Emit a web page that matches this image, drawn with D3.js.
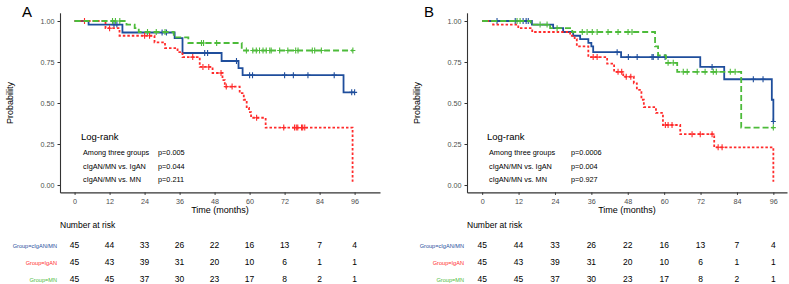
<!DOCTYPE html>
<html>
<head>
<meta charset="utf-8">
<script src="https://cdn.jsdelivr.net/npm/d3@7"></script>
<style>
  body { margin: 0; background: #fff; }
  svg { font-family: "Liberation Sans", Arial, sans-serif; }
</style>
</head>
<body>
<div id="chart"></div>
<script>
////////////////////////////////////////////////////////////////////////
// Data (months, survival probability)

const groups = ["cIgAN/MN", "IgAN", "MN"];
const colors = ["#1F4E9C", "#FF2B2B", "#4DBB3A"];
const dashes = [null, "2.5,2", "6,3"];
const tickMonths = [0, 12, 24, 36, 48, 60, 72, 84, 96];

// panel A
const aBlueT = [4.8, 16.4, 34.3, 37, 50.4, 56.2, 57.6, 92.2];
const aBlueS = [0.978, 0.93, 0.895, 0.805, 0.756, 0.713, 0.67, 0.565];
const aBlueC = [13.5, 14.5, 30, 31.5, 44.6, 45.6, 55.5, 60, 61, 72, 75, 80, 89, 95, 96];

const aRedT = [10.6, 15.4, 27.4, 31, 35.3, 37, 42.9, 47.3, 50.7, 51.5, 56.6, 58, 59, 59.8, 60.5, 65.5, 95.3];
const aRedS = [0.956, 0.91, 0.87, 0.835, 0.81, 0.78, 0.72, 0.683, 0.64, 0.6, 0.56, 0.52, 0.47, 0.445, 0.41, 0.35, 0.02];
const aRedC = [3.4, 12, 24, 25.7, 40.5, 44, 46, 50.2, 52, 54, 62.4, 71.7, 75.4, 76, 76.5, 77.8, 78.2, 78.9];

const aGreenT = [17.8, 20.6, 22, 34, 39, 57.3];
const aGreenS = [0.978, 0.956, 0.933, 0.9, 0.866, 0.82];
const aGreenC = [13, 14, 15.5, 25, 28, 31, 43.5, 44.2, 48.7, 58.9, 61.1, 62.3, 63.4, 64.6, 65.7, 66.9,
                 67.4, 70.3, 73.1, 75.8, 76.6, 81.5, 82.3, 84.6, 95.4];

const aRisk = [[45, 44, 33, 26, 22, 16, 13, 7, 4],
               [45, 43, 39, 31, 20, 10, 6, 1, 1],
               [45, 45, 37, 30, 23, 17, 8, 2, 1]];
const aTest = ["Among three groups", "cIgAN/MN vs. IgAN", "cIgAN/MN vs. MN"];
const aP = ["p=0.005", "p=0.044", "p=0.211"];

// panel B
const bBlueT = [16.4, 23.4, 26.7, 30, 32.3, 35, 36, 36.6, 45.8, 71.9, 79.8, 95.5, 96];
const bBlueS = [0.978, 0.956, 0.933, 0.91, 0.89, 0.867, 0.845, 0.81, 0.78, 0.72, 0.645, 0.52, 0.387];
const bBlueC = [4.9, 10.9, 13.5, 14.5, 15.2, 44.5, 48.2, 51.1, 56, 56.4, 58, 60.3, 75.8, 89.4, 92.6, 96];

const bRedT = [3.6, 11.9, 16.5, 29, 30.5, 31.2, 35, 41.2, 43.5, 46.5, 50, 51, 52.5, 53.3, 57.3, 59.6, 65.3, 76.5, 96];
const bRedS = [0.978, 0.956, 0.933, 0.91, 0.89, 0.845, 0.78, 0.74, 0.69, 0.66, 0.62, 0.58, 0.52, 0.475, 0.44,
               0.366, 0.31, 0.23, 0.02];
const bRedC = [36.6, 37.9, 44.8, 46, 47.5, 49, 60.4, 61.3, 62.6, 69.2, 71.9, 75.8, 77.8, 79.1];

const bGreenT = [16, 22.4, 29.7, 57, 58, 60.6, 64.3, 85.4];
const bGreenS = [0.978, 0.956, 0.933, 0.845, 0.79, 0.745, 0.69, 0.35];
const bGreenC = [11.5, 12.5, 19.1, 21.4, 24.7, 33, 34.6, 36.3, 37.9, 41.5, 44.8, 48.1, 49.4, 61.3, 63,
                 66.3, 67.6, 70.9, 73.5, 76.2, 77.2, 81.8, 83.4, 96];

const bRisk = [[45, 44, 33, 26, 22, 16, 13, 7, 4],
               [45, 43, 39, 31, 20, 10, 6, 1, 1],
               [45, 45, 37, 30, 23, 17, 8, 2, 1]];
const bTest = ["Among three groups", "cIgAN/MN vs. IgAN", "cIgAN/MN vs. MN"];
const bP = ["p=0.0006", "p=0.004", "p=0.927"];

////////////////////////////////////////////////////////////////////////

const svg = d3.select("#chart").append("svg")
  .attr("width", 789).attr("height", 284);

// survival value at time t for a step curve
function survAt(times, surv, t) {
  let s = 1;
  for (let i = 0; i < times.length; i++) if (times[i] <= t) s = surv[i];
  return s;
}

function drawPanel(p) {
  const g = svg.append("g");
  const x = d3.scaleLinear().domain(p.xDomain).range(p.xRange);
  const y = d3.scaleLinear().domain([-0.045, 1.05]).range([192.4, 12.8]);
  const midX = (x.range()[0] + x.range()[1]) / 2;

  // panel letter
  g.append("text").attr("x", p.letterX).attr("y", 17)
    .attr("font-size", 15).attr("fill", "#000").text(p.letter);

  // axes
  const xAxis = g.append("g").attr("transform", `translate(0,${y.range()[0]})`)
    .call(d3.axisBottom(x).tickValues(tickMonths).tickSize(2.5).tickSizeOuter(0));
  const yAxis = g.append("g").attr("transform", `translate(${x.range()[0]},0)`)
    .call(d3.axisLeft(y).tickValues([0, 0.25, 0.5, 0.75, 1]).tickFormat(d3.format(".2f"))
      .tickSize(2.5).tickSizeOuter(0));
  [xAxis, yAxis].forEach(a => {
    a.select(".domain").attr("stroke", "#333").attr("stroke-width", 1.1);
    a.selectAll(".tick line").attr("stroke", "#333");
    a.selectAll(".tick text").attr("fill", "#4d4d4d").attr("font-size", 7.2)
      .attr("font-family", "Liberation Sans, Arial, sans-serif");
  });
  xAxis.selectAll(".tick text").attr("dy", "0.9em");

  g.append("text").attr("x", midX).attr("y", 213).attr("text-anchor", "middle")
    .attr("font-size", 9).text("Time (months)");
  g.append("text").attr("transform", `translate(${p.yTitleX},103) rotate(-90)`)
    .attr("text-anchor", "middle").attr("font-size", 9).text("Probability");

  // curves
  p.curves.forEach((c, i) => {
    const pts = [[0, 1]];
    c.t.forEach((t, j) => pts.push([t, c.s[j]]));
    const last = d3.max(c.c.concat(c.t));
    pts.push([last, pts[pts.length - 1][1]]);
    const line = d3.line().x(d => x(d[0])).y(d => y(d[1])).curve(d3.curveStepAfter);
    g.append("path").datum(pts).attr("d", line)
      .attr("fill", "none").attr("stroke", colors[i]).attr("stroke-width", 1.8)
      .attr("stroke-dasharray", dashes[i]);
    // censor marks
    g.append("g").selectAll("path").data(c.c).join("path")
      .attr("d", t => {
        const cx = x(t), cy = y(survAt(c.t, c.s, t));
        return `M${cx},${cy - 3}V${cy + 3}M${cx - 2.5},${cy}H${cx + 2.5}`;
      })
      .attr("stroke", colors[i]).attr("stroke-width", 1.1).attr("fill", "none");
  });

  // log-rank box
  g.append("text").attr("x", p.lrX).attr("y", 140).attr("font-size", 9.5).text("Log-rank");
  p.tests.forEach((s, i) => {
    g.append("text").attr("x", p.lrX + 2).attr("y", 155 + i * 13.5).attr("font-size", 7.3).text(s);
    g.append("text").attr("x", p.pX).attr("y", 155 + i * 13.5).attr("font-size", 7.3).text(p.ps[i]);
  });

  // number at risk table
  g.append("text").attr("x", x.range()[0]).attr("y", 228).attr("font-size", 8.5).text("Number at risk");
  p.risk.forEach((row, i) => {
    const ry = 248 + i * 17;
    g.append("text").attr("x", x.range()[0] - 3).attr("y", ry - 0.5).attr("text-anchor", "end")
      .attr("font-size", 5.6).attr("fill", colors[i]).text("Group=" + groups[i]);
    g.append("g").selectAll("text").data(row).join("text")
      .attr("x", (d, j) => x(tickMonths[j])).attr("y", ry)
      .attr("text-anchor", "middle").attr("font-size", 8.5).text(d => d);
  });
}

drawPanel({
  letter: "A", letterX: 22, yTitleX: 13,
  xDomain: [-5, 104.7], xRange: [60, 380],
  lrX: 81, pX: 158,
  tests: aTest, ps: aP, risk: aRisk,
  curves: [
    { t: aBlueT, s: aBlueS, c: aBlueC },
    { t: aRedT, s: aRedS, c: aRedC },
    { t: aGreenT, s: aGreenS, c: aGreenC }
  ]
});

drawPanel({
  letter: "B", letterX: 424, yTitleX: 420,
  xDomain: [-5, 100.5], xRange: [467, 787],
  lrX: 487, pX: 571,
  tests: bTest, ps: bP, risk: bRisk,
  curves: [
    { t: bBlueT, s: bBlueS, c: bBlueC },
    { t: bRedT, s: bRedS, c: bRedC },
    { t: bGreenT, s: bGreenS, c: bGreenC }
  ]
});
</script>
</body>
</html>
